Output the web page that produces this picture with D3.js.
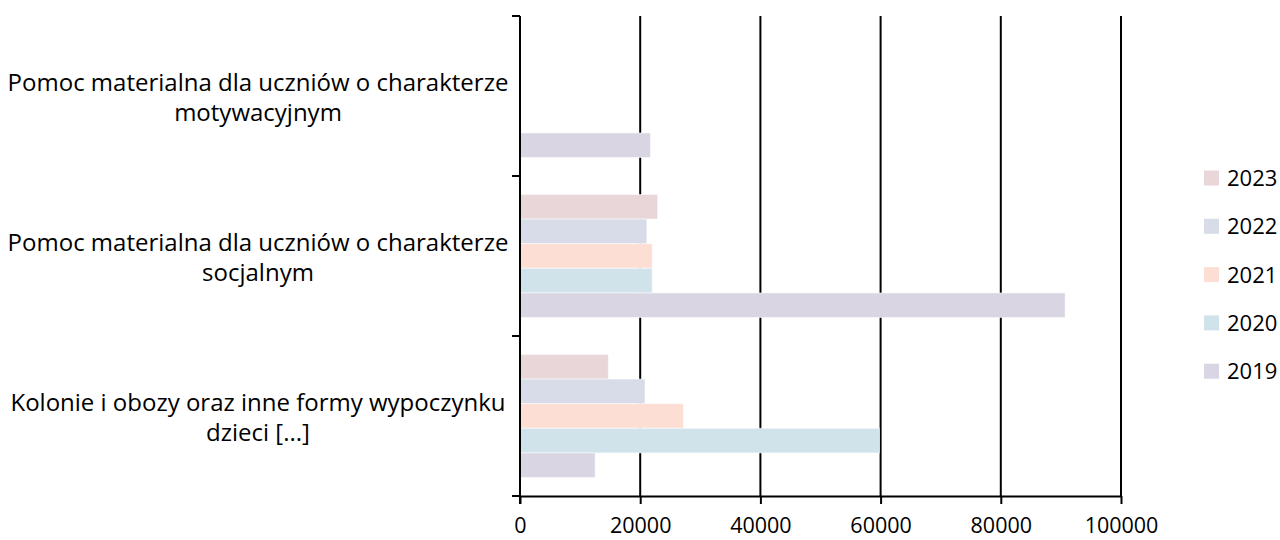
<!DOCTYPE html>
<html>
<head>
<meta charset="utf-8">
<script src="https://cdn.jsdelivr.net/npm/d3@7"></script>
<style>
  body { margin: 0; background: #fff; }
  svg text { font-family: "Open Sans", "Noto Sans", sans-serif; fill: #000; }
</style>
</head>
<body>
<div class="chart_container"></div>
<script>

// categories, top to bottom (label lines split like the original)
const categories = ["motywacyjny", "socjalny", "kolonie"];
const categoryLines = [
  ["Pomoc materialna dla uczniów o charakterze", "motywacyjnym"],
  ["Pomoc materialna dla uczniów o charakterze", "socjalnym"],
  ["Kolonie i obozy oraz inne formy wypoczynku", "dzieci [...]"]
];

// years as in the legend (top to bottom)
const years = ["2023", "2022", "2021", "2020", "2019"];

// values per year, same order as categories
const values2023 = [null, 22900, 14700];
const values2022 = [null, 21100, 20800];
const values2021 = [null, 22000, 27200];
const values2020 = [null, 22000, 59800];
const values2019 = [21700, 90700, 12500];

const xTicks = [0, 20000, 40000, 60000, 80000, 100000];

const yearColors = {
  "2023": "#e9d6d8",
  "2022": "#d7dce8",
  "2021": "#fcded4",
  "2020": "#d1e3ea",
  "2019": "#d9d5e3"
};

const seriesByYear = {
  "2023": values2023,
  "2022": values2022,
  "2021": values2021,
  "2020": values2020,
  "2019": values2019
};

const width = 1280, height = 540;
const plot = { left: 520, right: 1121, top: 16, bottom: 496 };

const svg = d3.select(".chart_container").append("svg")
  .attr("width", width)
  .attr("height", height);

const x = d3.scaleLinear()
  .domain([0, 100000])
  .range([plot.left, plot.right]);

const y = d3.scaleBand()
  .domain(categories)
  .range([plot.top, plot.bottom]);

// bars inside a band, gap ~150% like excel
const yInner = d3.scaleBand()
  .domain(years)
  .range([0, y.bandwidth()])
  .paddingOuter(0.75);

// gridlines first so bars sit on top
svg.append("g")
  .selectAll("line")
  .data(xTicks.slice(1))
  .join("line")
  .attr("x1", d => x(d)).attr("x2", d => x(d))
  .attr("y1", plot.top).attr("y2", plot.bottom)
  .attr("stroke", "#000")
  .attr("stroke-width", 2);

// bars
const rows = [];
categories.forEach((c, i) => {
  years.forEach(yr => {
    const v = seriesByYear[yr][i];
    if (v != null) rows.push({ cat: c, year: yr, value: v });
  });
});

svg.append("g")
  .selectAll("rect")
  .data(rows)
  .join("rect")
  .attr("x", x(0))
  .attr("y", d => y(d.cat) + yInner(d.year))
  .attr("width", d => x(d.value) - x(0))
  .attr("height", yInner.bandwidth())
  .attr("fill", d => yearColors[d.year])
  .attr("stroke", "#fff")
  .attr("stroke-opacity", 0.5)
  .attr("stroke-width", 1);

// x axis
const xAxis = d3.axisBottom(x)
  .tickValues(xTicks)
  .tickFormat(d3.format("d"))
  .tickSize(8)
  .tickSizeOuter(0);

const gx = svg.append("g")
  .attr("transform", `translate(0,${plot.bottom})`)
  .call(xAxis);
gx.select(".domain").attr("stroke", "#000").attr("stroke-width", 2);
gx.selectAll(".tick line").attr("stroke", "#000").attr("stroke-width", 2);
gx.selectAll(".tick text")
  .attr("y", 37)
  .attr("dy", 0)
  .style("font-size", "21.5px");

// y axis: ticks at band edges, no labels from the axis itself
const yEdges = categories.map(c => y(c)).concat([plot.bottom]);
svg.append("line")
  .attr("x1", plot.left).attr("x2", plot.left)
  .attr("y1", plot.top).attr("y2", plot.bottom + 8)
  .attr("stroke", "#000").attr("stroke-width", 2);
svg.append("g")
  .selectAll("line")
  .data(yEdges)
  .join("line")
  .attr("x1", plot.left - 8).attr("x2", plot.left)
  .attr("y1", d => d).attr("y2", d => d)
  .attr("stroke", "#000").attr("stroke-width", 2);

// category labels, two lines centred on the band
const labels = svg.append("g")
  .selectAll("text")
  .data(categories)
  .join("text")
  .attr("text-anchor", "middle")
  .style("font-size", "24px")
  .attr("y", d => y(d) + y.bandwidth() / 2);

labels.selectAll("tspan")
  .data((d, i) => categoryLines[i])
  .join("tspan")
  .attr("x", 258)
  .attr("dy", (d, j) => j === 0 ? "-0.2em" : "1.25em")
  .text(d => d);

// legend
const legend = svg.append("g")
  .selectAll("g")
  .data(years)
  .join("g")
  .attr("transform", (d, i) => `translate(1204,${178 + i * 48.3})`);

legend.append("rect")
  .attr("x", 0).attr("y", -7.5)
  .attr("width", 15).attr("height", 15)
  .attr("fill", d => yearColors[d]);

legend.append("text")
  .attr("x", 23)
  .attr("dy", "0.36em")
  .style("font-size", "22px")
  .text(d => d);

</script>
</body>
</html>
